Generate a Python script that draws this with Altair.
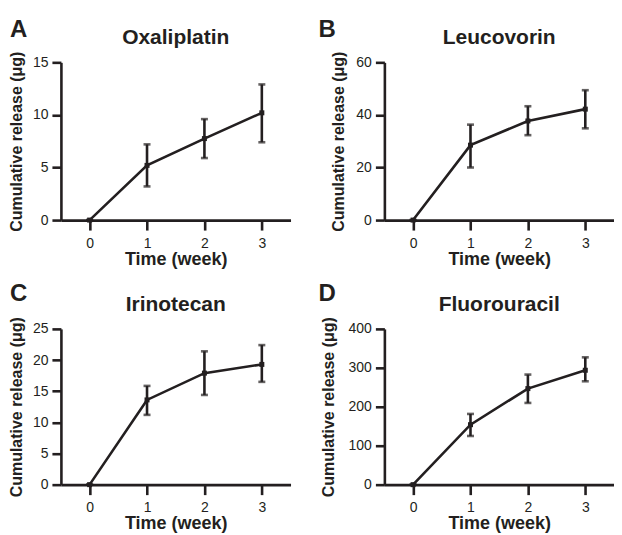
import altair as alt
import pandas as pd

# ---- data ----
weeks = [0, 1, 2, 3]

oxa_mean = [0, 5.2, 7.75, 10.2]
oxa_lo = [0, 3.2, 5.9, 7.4]
oxa_hi = [0, 7.2, 9.6, 12.9]

leu_mean = [0, 28.5, 37.7, 42.2]
leu_lo = [0, 20.0, 32.3, 34.9]
leu_hi = [0, 36.3, 43.3, 49.4]

iri_mean = [0, 13.6, 17.9, 19.3]
iri_lo = [0, 11.2, 14.4, 16.5]
iri_hi = [0, 15.85, 21.4, 22.4]

flu_mean = [0, 154, 246.7, 293.8]
flu_lo = [0, 125, 209.9, 265.5]
flu_hi = [0, 181.6, 282.7, 327]

letters = ["A", "B", "C", "D"]
drugs = ["Oxaliplatin", "Leucovorin", "Irinotecan", "Fluorouracil"]
y_max = [15, 60, 25, 400]
y_ticks = [[0, 5, 10, 15], [0, 20, 40, 60], [0, 5, 10, 15, 20, 25], [0, 100, 200, 300, 400]]

# ---- style ----
FONT = "Liberation Sans, Arial, Helvetica, sans-serif"
C = "#231f20"
W = 230
H_TOP = 158
H_BOT = 156


def panel(letter, drug, mean, lo, hi, ymax, yticks, height, title_x, letter_x, letter_y):
    df = pd.DataFrame({"week": weeks, "mean": mean, "lo": lo, "hi": hi})
    xenc = alt.X(
        "week:Q",
        scale=alt.Scale(domain=[-0.5, 3.5], nice=False, zero=False),
        axis=alt.Axis(
            values=weeks, title="Time (week)", grid=False, format="d",
            domainColor=C, domainWidth=2.6, tickColor=C, tickWidth=2.6, tickSize=10,
            labelFont=FONT, labelFontSize=14, labelColor=C, labelPadding=6, labelFlush=False,
            titleFont=FONT, titleFontSize=18, titleFontWeight="bold", titleColor=C, titlePadding=0,
        ),
    )
    yscale = alt.Scale(domain=[0, ymax], nice=False, zero=True)
    yaxis = alt.Axis(
        values=yticks, title="Cumulative release (μg)", grid=False,
        domainColor=C, domainWidth=2.6, tickColor=C, tickWidth=2.6, tickSize=9,
        labelFont=FONT, labelFontSize=14, labelColor=C, labelPadding=4, labelFlush=False,
        titleFont=FONT, titleFontSize=16, titleFontWeight="bold", titleColor=C,
        titleX=title_x,
    )
    base = alt.Chart(df)
    err = base.mark_errorbar(ticks=True, size=7, thickness=2.6, color=C).encode(
        x=xenc,
        y=alt.Y("lo:Q", scale=yscale, axis=yaxis, title="Cumulative release (μg)"),
        y2=alt.Y2("hi:Q"),
    )
    line = base.mark_line(color=C, strokeWidth=2.6).encode(
        x=xenc, y=alt.Y("mean:Q", scale=yscale, axis=yaxis, title="Cumulative release (μg)")
    )
    pts = base.mark_square(color=C, size=25, opacity=1).encode(
        x=xenc, y=alt.Y("mean:Q", scale=yscale, axis=yaxis, title="Cumulative release (μg)")
    )
    lab = alt.Chart(pd.DataFrame({"t": [letter]})).mark_text(
        align="left", baseline="alphabetic", font=FONT, fontSize=24, fontWeight="bold", color=C
    ).encode(x=alt.value(letter_x), y=alt.value(letter_y), text="t:N")
    ttl = alt.Chart(pd.DataFrame({"t": [drug]})).mark_text(
        align="center", baseline="alphabetic", font=FONT, fontSize=21, fontWeight="bold", color=C
    ).encode(x=alt.value(W / 2), y=alt.value(-18), text="t:N")
    return alt.layer(err, line, pts, lab, ttl).properties(width=W, height=height)


pA = panel(letters[0], drugs[0], oxa_mean, oxa_lo, oxa_hi, y_max[0], y_ticks[0], H_TOP, -36, -51, -25)
pB = panel(letters[1], drugs[1], leu_mean, leu_lo, leu_hi, y_max[1], y_ticks[1], H_TOP, -38, -66, -25)
pC = panel(letters[2], drugs[2], iri_mean, iri_lo, iri_hi, y_max[2], y_ticks[2], H_BOT, -36, -51, -28)
pD = panel(letters[3], drugs[3], flu_mean, flu_lo, flu_hi, y_max[3], y_ticks[3], H_BOT, -48, -66, -28)

row1 = alt.hconcat(pA, pB, spacing=28)
row2 = alt.hconcat(pC, pD, spacing=28)

chart = (
    alt.vconcat(row1, row2, spacing=14)
    .properties(padding={"left": 0, "top": 10, "right": 0, "bottom": 0}, background="white")
    .configure_view(stroke=None)
)

chart.save("out.html", embed_options={"renderer": "svg", "actions": False})
